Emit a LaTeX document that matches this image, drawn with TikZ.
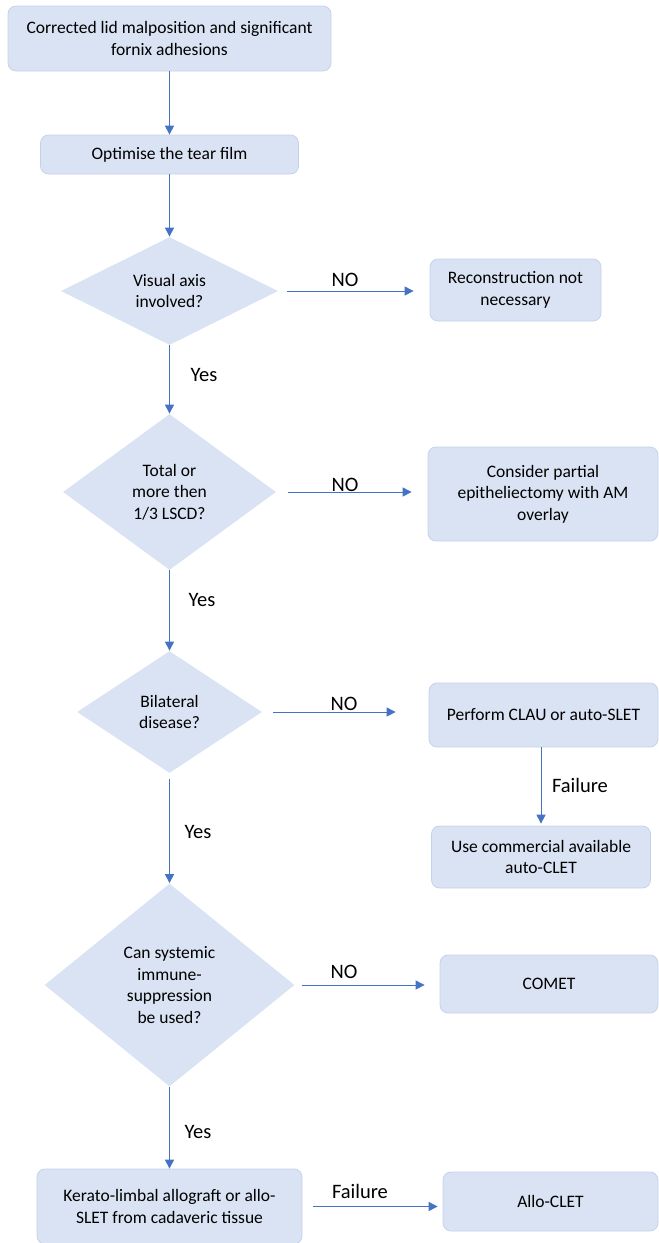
\documentclass[tikz,border=0pt]{standalone}
\usepackage{fontspec}
\setmainfont{Carlito}
\usetikzlibrary{shapes.geometric,arrows.meta}
\definecolor{boxfill}{HTML}{DAE3F3}
\definecolor{boxline}{HTML}{C3D1EA}
\definecolor{flowblue}{HTML}{4472C4}
\tikzset{every picture/.style={line width=0.75pt}}
\tikzset{
  stepbox/.style={draw=boxline, fill=boxfill, rounded corners=8pt, align=center,
    inner sep=0pt, font=\fontsize{17.5}{21.5}\selectfont},
  choice/.style={diamond, fill=boxfill, align=center, inner sep=0pt,
    font=\fontsize{17.5}{21.5}\selectfont},
  flow/.style={draw=flowblue, line width=0.9pt, -{Triangle[width=9pt,length=9pt]}},
  tag/.style={font=\fontsize{20.5}{24}\selectfont}
}

\begin{document}
\begin{tikzpicture}[x=1pt,y=-1pt]
\useasboundingbox (0,0) rectangle (659,1243);
% left column
\node[stepbox, minimum width=323pt, minimum height=65pt] (corr) at (169.5,38.5) {Corrected lid malposition and significant\\fornix adhesions};
\node[stepbox, minimum width=258pt, minimum height=39pt] (tear) at (169.5,154.5) {Optimise the tear film};
\node[choice, minimum width=217pt, minimum height=108pt] (visual) at (169.5,291) {Visual axis\\involved?};
\node[choice, minimum width=213pt, minimum height=156pt] (total) at (169.5,492) {Total or\\more then\\1/3 LSCD?};
\node[choice, minimum width=185pt, minimum height=122pt] (bilat) at (169.5,712) {Bilateral\\disease?};
\node[choice, minimum width=250pt, minimum height=203pt] (immune) at (169.5,985) {Can systemic\\immune-\\suppression\\be used?};
\node[stepbox, minimum width=265pt, minimum height=75pt] (kerato) at (169.5,1206.5) {Kerato-limbal allograft or allo-\\SLET from cadaveric tissue};
%
% right column
\node[stepbox, minimum width=171pt, minimum height=62pt] (recon) at (515.5,290) {Reconstruction not\\necessary};
\node[stepbox, minimum width=230pt, minimum height=94pt] (partial) at (543,494) {Consider partial\\epitheliectomy with AM\\overlay};
\node[stepbox, minimum width=229pt, minimum height=64pt] (clau) at (543.5,715) {Perform CLAU or auto-SLET};
\node[stepbox, minimum width=219pt, minimum height=62pt] (commercial) at (541,857) {Use commercial available\\auto-CLET};
\node[stepbox, minimum width=218pt, minimum height=58pt] (comet) at (549,984) {COMET};
\node[stepbox, minimum width=215pt, minimum height=59pt] (allo) at (550.5,1201.5) {Allo-CLET};
%
% arrows down
\draw[flow] (corr) -- (tear);
\draw[flow] (tear) -- (visual);
\draw[flow] (visual) -- (total);
\draw[flow] (total) -- (bilat);
\draw[flow, shorten <=6pt] (bilat) -- (immune);
\draw[flow] (immune) -- (kerato);
\draw[flow, shorten >=2pt] (clau.south -| commercial.north) -- (commercial.north);
%
% arrows right
\draw[flow, shorten <=9pt, shorten >=16pt] (visual.east) -- (visual.east -| recon.west);
\draw[flow, shorten <=12pt, shorten >=16pt] (total.east) -- (total.east -| partial.west);
\draw[flow, shorten <=11pt, shorten >=33pt] (bilat.east) -- (bilat.east -| clau.west);
\draw[flow, shorten <=7pt, shorten >=15pt] (immune.east) -- (immune.east -| comet.west);
\draw[flow, shorten <=11pt, shorten >=5pt] (kerato.east) -- (kerato.east -| allo.west);
%
% labels
\node[tag] (yes1) at (204,375) {Yes};
\node[tag] (yes2) at (202,600) {Yes};
\node[tag] (yes3) at (198,832) {Yes};
\node[tag] (yes4) at (198,1132) {Yes};
\node[tag] (no1) at (345,280) {NO};
\node[tag] (no2) at (345,485) {NO};
\node[tag] (no3) at (344,704) {NO};
\node[tag] (no4) at (344,972) {NO};
\node[tag] (fail1) at (580,785) {Failure};
\node[tag] (fail2) at (360,1191) {Failure};
\end{tikzpicture}
\end{document}
